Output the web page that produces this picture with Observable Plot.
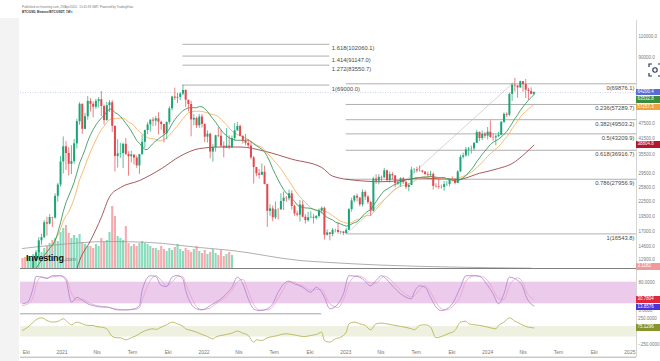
<!DOCTYPE html>
<html><head><meta charset="utf-8">
<script src="https://cdn.jsdelivr.net/npm/d3@7"></script>
<script src="https://cdn.jsdelivr.net/npm/@observablehq/plot@0.6"></script>
<style>
html,body{margin:0;padding:0;background:#fff;}
#wrap{position:relative;width:660px;height:361px;overflow:hidden;background:#fff;font-family:"Liberation Sans",Arial,sans-serif;}
#wrap svg.plot-layer{position:absolute;left:0;top:0;max-width:none;}
.box{position:absolute;left:636px;width:26px;height:6.4px;font-size:4.5px;line-height:6.4px;color:#fff;padding-left:1.6px;box-sizing:border-box;white-space:nowrap;}
</style></head><body><div id="wrap"></div>
<script>
// ---------------- DATA (weekly candles, thousands of USD) ----------------
const firstWeek = "2020-09-21";
const firstOpen = 10.92;
const high = [10.99,10.93,11.49,11.72,13.35,14.10,15.97,16.49,18.78,19.42,19.92,19.41,24.28,26.87,34.80,
41.95,40.11,37.85,38.53,40.95,49.71,58.30,57.53,52.60,61.78,60.60,58.60,60.20,61.28,64.85,57.00,58.46,59.50,59.47,46.67,40.85,39.50,39.50,41.33,36.40,36.60,35.10,34.90,35.50,42.60,44.80,48.14,49.38,50.50,51.03,52.92,48.85,47.36,48.50,56.08,62.00,67.00,63.70,64.25,69.00,66.00,59.27,59.10,51.95,50.75,52.10,52.05,
47.57,44.46,43.50,38.92,42.66,45.85,44.75,40.00,45.40,42.40,42.33,47.70,48.20,47.00,42.40,43.00,40.80,40.00,34.80,31.00,30.70,32.40,31.70,26.70,21.90,21.60,22.50,21.10,24.30,24.70,23.70,25.20,25.00,21.80,20.55,22.80,22.70,19.90,20.35,20.45,19.95,19.70,21.00,21.45,21.40,17.20,16.75,17.40,17.30,18.40,16.95,16.95,
17.40,21.10,23.30,23.90,24.25,23.45,25.25,25.05,23.90,22.60,28.50,29.20,29.20,28.80,31.00,30.50,30.00,29.80,29.00,27.60,28.40,28.45,27.40,26.80,31.40,31.00,31.40,31.80,30.45,30.10,29.95,30.20,29.70,26.80,28.15,26.40,27.40,27.40,28.05,28.60,27.95,30.35,35.20,35.95,37.98,37.95,38.40,39.70,44.70,44.05,44.40,43.80,
45.90,48.95,43.20,42.80,43.85,48.60,52.80,52.95,63.95,70.15,73.75,68.95,71.70,71.30,72.80,66.90,67.20,64.70];
const low = [10.14,10.37,10.53,11.22,11.42,12.95,13.20,14.83,15.79,16.19,18.04,17.60,19.05,22.42,25.94,
29.45,30.42,28.85,29.24,32.30,37.35,46.90,43.00,44.95,49.30,53.27,50.40,54.60,55.46,51.00,47.00,48.80,53.05,43.82,30.00,31.12,34.15,31.00,35.10,28.80,32.70,32.07,31.02,29.28,35.21,37.50,42.85,43.93,46.31,46.50,42.80,44.74,39.60,40.83,47.12,53.88,59.53,57.80,59.40,62.30,55.60,53.25,42.00,46.80,45.50,45.55,45.70,
39.65,39.55,34.00,32.92,36.25,41.65,37.80,34.32,37.50,37.15,37.58,40.47,44.20,42.00,39.20,38.60,37.60,33.70,26.70,28.60,28.00,29.30,26.50,17.60,19.60,18.60,19.00,18.90,20.80,20.70,22.40,22.70,20.80,19.60,19.50,18.55,19.30,18.20,18.50,19.20,18.20,18.90,19.25,20.05,15.60,16.20,15.48,16.10,16.70,16.50,16.40,16.30,
16.50,17.10,20.40,22.30,22.50,21.45,21.40,22.80,21.95,19.57,20.40,26.60,26.50,27.20,28.20,27.10,26.95,27.70,25.80,26.40,25.90,26.60,25.35,24.80,26.30,29.50,29.70,29.95,29.60,28.90,28.60,28.70,25.20,25.70,25.40,25.40,24.90,26.10,26.00,27.25,26.55,26.80,29.80,33.95,34.50,34.80,35.60,36.70,39.40,40.20,40.50,41.30,
40.75,41.50,40.30,38.55,41.80,42.50,47.70,50.55,50.90,59.00,64.55,60.75,66.90,64.50,60.70,59.60,62.80,62.30];
const close = [10.77,10.67,11.38,11.50,13.03,13.80,15.48,15.96,18.41,18.18,19.36,19.27,23.73,26.44,33.00,
38.18,35.79,32.26,33.11,39.27,48.56,57.40,45.14,50.97,59.02,57.35,55.81,59.00,59.97,56.17,49.07,56.62,58.24,46.43,34.76,35.68,35.80,39.10,35.49,34.70,35.29,34.25,31.78,35.40,39.85,44.61,47.08,49.32,48.83,49.94,48.31,47.26,43.20,48.20,54.97,61.53,60.85,61.30,63.27,65.50,59.70,57.27,49.40,50.10,46.70,50.80,47.30,
41.86,43.08,36.28,37.92,42.41,42.20,38.38,37.70,38.42,37.80,41.26,44.50,46.40,42.20,40.40,39.45,38.47,34.30,31.30,29.43,29.02,29.90,26.57,20.55,21.03,19.30,20.85,20.83,22.58,23.30,23.18,24.31,21.53,20.05,19.81,21.83,19.42,18.80,19.31,19.40,19.20,19.57,20.63,21.15,16.33,16.70,16.45,17.12,17.10,16.78,16.84,16.61,
17.13,20.88,22.70,23.74,23.33,21.86,24.63,23.55,22.35,20.60,27.99,27.45,28.45,28.33,30.30,27.59,29.23,28.86,26.80,27.10,28.08,27.12,25.85,26.33,30.54,30.59,30.29,30.23,29.92,29.26,29.05,29.30,26.10,26.00,25.84,25.83,26.53,26.57,27.97,27.94,26.86,29.98,34.50,35.00,37.06,37.38,37.45,39.46,43.75,41.35,43.00,42.28,
43.90,41.70,41.58,42.05,42.60,48.30,52.10,51.70,63.10,68.90,68.40,67.20,71.30,69.40,65.70,64.90,63.10,64.20];

// weekly volume (relative units), first 78 weeks only
const volume = [10,11,12,10,14,15,18,16,20,22, 25,28,30,27,36,40,43,35,30,33, 30,34,26,24,22,22,20,24,22,30,
26,28,36,62,52,32,30,28,42,25, 22,24,22,25,27,25,24,22,20,20, 18,22,19,17,20,18,21,24,19,17,
20,18,16,19,22,17,15,18,14,16, 19,15,13,18,12,14,16,13];
const volMaWeek = [0,10,32,47,65,77,102,113,131,157,187];
const volMa     = [20,23,27,26,21,18,8,6,3.5,1.5,0.3];

// 50-week moving average (thousands)
const ma50Week = [19,20,21,25,29,32,36,43,51,58,65,73,80,89,99,110,114,122,132,139,146,160,168,175,180,185,188];
const ma50     = [11.2,11.85,12.8,15.5,19.4,23.6,25.8,27.6,30.9,34.9,37.5,38.1,38.1,36.6,33.9,31.3,28.8,27.7,27.3,27.6,28.3,27.9,29.6,31.0,32.5,36.0,38.8];

// Stochastic RSI
const stochWeek = [0,2,4,5,7,9,11,14,16,18,20,22,24,26,29,31,35,38,41,43,44,47,49,51,53,55,57,59,60,62,64,66,69,71,73,75,77,79,81,83,85,87,90,92,94,96,98,100,101,103,106,108,110,111,113,116,118,120,123,125,128,130,132,133,136,139,143,144,146,148,150,152,154,156,158,161,163,166,168,171,173,175,177,179,182,184,185,188];
const stochK = [20,25,66,96,94,90,98,98,85,24,38,30,20,15,11,11,3,3,6,15,57,98,96,71,68,94,99,88,57,20,6,3,15,24,34,48,66,94,76,34,6,1,6,20,52,75,83,75,73,66,52,66,52,38,6,20,48,98,96,89,70,85,98,94,70,48,34,52,70,66,38,11,1,6,20,66,98,98,96,71,48,20,48,94,85,66,43,14];
const stochD = [15,20,40,70,95,92,95,98,92,50,30,33,25,18,13,11,5,3,4,9,30,85,98,85,70,80,96,95,75,40,12,4,8,20,29,41,57,80,88,55,18,3,3,12,35,62,80,80,75,70,58,60,60,48,20,10,32,75,98,94,78,78,92,97,82,58,40,42,60,70,52,25,6,3,12,42,82,98,97,85,60,35,32,70,92,78,58,31];

// CCI
const cciWeek = [0,2,4,5,7,9,11,13,15,17,18,20,22,24,26,27,29,31,33,35,36,38,40,42,44,46,48,49,51,53,55,57,59,60,62,64,66,68,70,71,73,75,77,79,81,83,85,86,88,90,92,94,95,97,99,101,103,104,106,108,110,111,113,115,117,119,120,122,124,126,128,130,132,135,139,143,144,146,148,150,152,154,155,157,159,161,163,164,166,168,170,172,174,175,177,179,181,183,185,187,188];
const cci = [26,90,186,231,269,218,186,199,250,167,135,186,154,122,122,103,90,58,-90,-115,-115,-154,-115,-70,-6,38,58,45,90,135,186,154,103,58,26,-6,-51,-90,-135,-103,-70,-51,-26,13,-26,-70,-199,-154,-167,-115,-90,-70,-51,-38,-51,-70,-90,-90,-70,-51,-6,-167,-199,-135,-103,-6,154,186,154,122,38,154,167,141,103,58,38,122,135,90,-115,-90,-70,-26,26,186,205,154,135,122,103,77,58,122,186,269,205,154,103,80,75];

// Fibonacci tools
const fibExtLevels = ["1.618","1.414","1.272","1"];
const fibExtValues = [102060.1, 91147.0, 83550.7, 69000.0];
const fibExtWeeks  = [59, 113];
const fibRetLevels = ["0","0.236","0.382","0.5","0.618","0.786","1"];
const fibRetValues = [69876.1, 57289.7, 49503.2, 43209.9, 36916.7, 27956.9, 16543.8];
const fibRetWeeks  = [119, 180];
const lastPrice = 64200.4;

// axis ticks / labels
const priceTicks = [110000, 90000, 47500, 41500, 35500, 29500, 25800, 22500, 19500, 17000, 14600, 12900];
const stochTicks = [80, 0];
const cciTicks = [250, -250];
const timeTickDates = ["2020-10-01","2021-01-01","2021-04-01","2021-07-01","2021-10-01","2022-01-01","2022-04-01","2022-07-01","2022-10-01","2023-01-01","2023-04-01","2023-07-01","2023-10-01","2024-01-01","2024-04-01","2024-07-01","2024-10-01","2025-01-01"];
const timeTickLabels = ["Eki","2021","Nis","Tem","Eki","2022","Nis","Tem","Eki","2023","Nis","Tem","Eki","2024","Nis","Tem","Eki","2025"];

const priceBoxTexts = ["64200.4","63532.8","57257.3","38804.8"];
const priceBoxValues = [64200.4, 63532.8, 57257.3, 38804.8];
const priceBoxColors = ["#5a6bd6","#3b8c3f","#f2a43c","#b3162e"];
const stochBoxTexts = ["30.7804","13.8576"];
const stochBoxValues = [30.7804, 13.8576];
const stochBoxColors = ["#e2263c","#4b33da"];
const cciBoxText = "75.1296", cciBoxValue = 75.1296, cciBoxColor = "#8a942f";
const volBoxText = "3.1182", volBoxValue = 1.5, volBoxColor = "#f19a9c";

// ---------------- BUILD ----------------
const DAY = 864e5;
const w0 = new Date(firstWeek + "T00:00:00Z").getTime();
const weekDate = i => new Date(w0 + i * 7 * DAY);
const xStart = new Date("2020-09-16T00:00:00Z");
const xEnd = new Date("2025-01-18T00:00:00Z");
const UP = "#19a574", DOWN = "#e2494f";

const candles = close.map((c, i) => ({
  date: weekDate(i),
  open: (i ? close[i - 1] : firstOpen) * 1000,
  high: high[i] * 1000, low: low[i] * 1000, close: c * 1000
}));
const vols = volume.map((v, i) => ({date: weekDate(i), v, up: candles[i].close >= candles[i].open}));
const volMaData = volMaWeek.map((w, i) => ({date: weekDate(w), v: volMa[i]}));
const ma50Data = ma50Week.map((w, i) => ({date: weekDate(w), v: ma50[i] * 1000}));
const stochData = stochWeek.map((w, i) => ({date: weekDate(w), k: stochK[i], d: stochD[i]}));
const cciData = cciWeek.map((w, i) => ({date: weekDate(w), v: cci[i]}));
const fibExt = fibExtLevels.map((l, i) => ({level: l, v: fibExtValues[i]}));
const fibRet = fibRetLevels.map((l, i) => ({level: l, v: fibRetValues[i]}));
const diag = [{date: weekDate(fibRetWeeks[0]), v: fibRetValues[6]}, {date: weekDate(fibRetWeeks[1]), v: fibRetValues[0]}];
const tickDates = timeTickDates.map(s => new Date(s + "T00:00:00Z"));
const tickLabelMap = new Map(tickDates.map((d, i) => [d.getTime(), timeTickLabels[i]]));

const W = 660, H = 361, ML = 20, MR = 24;
const xOpt = {type: "utc", domain: [xStart, xEnd], axis: null};
const baseStyle = {background: "transparent", fontFamily: "Liberation Sans, Arial, sans-serif", fontSize: "4.5px", color: "#7a7a7a", overflow: "visible", maxWidth: "none"};
const wrap = document.getElementById("wrap");
function add(svg, container = wrap) { svg.classList.add("plot-layer"); container.appendChild(svg); return svg; }

// left grey strip, right axis separator
const strip = document.createElement("div");
strip.style.cssText = "position:absolute;left:0;top:18px;width:19px;height:343px;background:#f3f3f3;";
wrap.appendChild(strip);
const vsep = document.createElement("div");
vsep.style.cssText = "position:absolute;left:636px;top:20px;width:0;height:337px;border-left:0.8px solid #d4d4d4;";
wrap.appendChild(vsep);

// header
const hdr = document.createElement("div");
hdr.style.cssText = "position:absolute;left:22px;top:5px;font-size:3px;line-height:4.6px;color:#777;white-space:nowrap;";
hdr.innerHTML = "Published on Investing.com, 29/Apr/2024 - 15:45:39 GMT, Powered by TradingView.<br><span style='color:#333;font-weight:bold'>BTC/USD, Binance/BTC/USDT, 1W \u25BE</span>";
wrap.appendChild(hdr);

// Volume layer
const volPlot = add(Plot.plot({
  width: W, height: H, marginLeft: ML, marginRight: MR, marginTop: 30, marginBottom: 93,
  style: baseStyle, x: xOpt, y: {domain: [0, 238], axis: null}, color: {type: "identity"},
  marks: [
    Plot.ruleX(vols, {x: "date", y1: 0, y2: "v", stroke: d => d.up ? "#86dcbd" : "#f5aaae", strokeWidth: 2.1}),
    Plot.line(volMaData, {x: "date", y: "v", stroke: "#9b9b9b", strokeWidth: 0.8, curve: "monotone-x"}),
    Plot.ruleY([0], {stroke: "#727272", strokeWidth: 0.9})
  ]
}));

// Price layer
const pricePlot = add(Plot.plot({
  width: W, height: H, marginLeft: ML, marginRight: MR, marginTop: 30, marginBottom: 93,
  style: baseStyle, x: xOpt, color: {type: "identity"},
  y: {type: "log", domain: [11871, 116520], axis: "right", ticks: priceTicks, tickFormat: d3.format(".1f"), tickSize: 0, tickPadding: 2, label: null},
  marks: [
    Plot.ruleY(fibExt, {y: "v", x1: () => weekDate(fibExtWeeks[0]), x2: () => weekDate(fibExtWeeks[1]), stroke: "#a6a6a6", strokeWidth: 0.9}),
    Plot.text(fibExt, {y: "v", x: () => weekDate(fibExtWeeks[1]), text: d => `${d.level}(${d.v.toFixed(1)})`, textAnchor: "start", dx: 2, dy: 3.6, fontSize: 5.8, fill: "#4a4a4a"}),
    Plot.ruleY(fibRet, {y: "v", x1: () => weekDate(fibRetWeeks[0]), x2: () => xEnd, stroke: "#a6a6a6", strokeWidth: 0.9}),
    Plot.text(fibRet, {y: "v", frameAnchor: "right", text: d => `${d.level}(${d.v.toFixed(1)})`, textAnchor: "end", dx: -2, dy: 4, fontSize: 5.8, fill: "#4a4a4a"}),
    Plot.line(diag, {x: "date", y: "v", stroke: "#b9b9b9", strokeWidth: 0.6}),
    Plot.ruleY([lastPrice], {stroke: "#b3bbe6", strokeWidth: 0.7, strokeDasharray: "1,1.5"}),
    Plot.line(ma50Data, {x: "date", y: "v", stroke: "#9a3b3f", strokeWidth: 0.85, curve: "monotone-x", clip: true}),
    Plot.lineY(candles, Plot.windowY({k: 18, anchor: "end"}, {x: "date", y: "close", stroke: "#f2b25e", strokeWidth: 0.85, clip: true})),
    Plot.lineY(candles, Plot.windowY({k: 13, anchor: "end"}, {x: "date", y: "close", stroke: "#2f9656", strokeWidth: 0.85, clip: true})),
    Plot.ruleX(candles, {x: "date", y1: "low", y2: "high", stroke: d => d.close >= d.open ? UP : DOWN, strokeWidth: 0.7, clip: true}),
    Plot.ruleX(candles, {x: "date", y1: "open", y2: "close", stroke: d => d.close >= d.open ? UP : DOWN, strokeWidth: 2.0, clip: true})
  ]
}));

// Stochastic RSI layer
const stochPlot = add(Plot.plot({
  width: W, height: H, marginLeft: ML, marginRight: MR, marginTop: 274.5, marginBottom: 50.5,
  style: baseStyle, x: xOpt,
  y: {domain: [0, 100], axis: "right", ticks: stochTicks, tickFormat: d3.format(".4f"), tickSize: 0, tickPadding: 2, label: null},
  marks: [
    Plot.rect([0], {x1: () => xStart, x2: () => xEnd, y1: () => 20, y2: () => 80, fill: "#eccaeb"}),
    Plot.line(stochData, {x: "date", y: "d", stroke: "#eba2c8", strokeWidth: 0.8, curve: "monotone-x"}),
    Plot.line(stochData, {x: "date", y: "k", stroke: "#a784cc", strokeWidth: 0.8, curve: "monotone-x"})
  ]
}));

// CCI layer
const cciPlot = add(Plot.plot({
  width: W, height: H, marginLeft: ML, marginRight: MR, marginTop: 313.3, marginBottom: 11.7,
  style: baseStyle, x: xOpt,
  y: {domain: [-346, 346], axis: "right", ticks: cciTicks, tickFormat: d3.format(".4f"), tickSize: 0, tickPadding: 1.5, label: null},
  marks: [
    Plot.rect([0], {x1: () => xStart, x2: () => xEnd, y1: () => -100, y2: () => 100, fill: "#eef1df"}),
    Plot.ruleY([346], {x1: () => xStart, x2: () => weekDate(110), stroke: "#8d8d8d", strokeWidth: 0.8}),
    Plot.line(cciData, {x: "date", y: "v", stroke: "#b5b150", strokeWidth: 0.85, curve: "monotone-x"})
  ]
}));

// time axis layer (clipped at price-axis boundary)
const axDiv = document.createElement("div");
axDiv.style.cssText = "position:absolute;left:0;top:0;width:636px;height:361px;overflow:hidden;";
wrap.appendChild(axDiv);
add(Plot.plot({
  width: W, height: H, marginLeft: ML, marginRight: MR, marginTop: 356.7, marginBottom: 3.3,
  style: {...baseStyle, fontSize: "5px", color: "#777"},
  x: {type: "utc", domain: [xStart, xEnd], axis: "top", ticks: tickDates, tickFormat: d => tickLabelMap.get(d.getTime()) ?? "", tickSize: 0, tickPadding: 3.2, label: null},
  y: {domain: [0, 1], axis: null},
  marks: [Plot.ruleY([1], {stroke: "#9c9c9c", strokeWidth: 0.8})]
}), axDiv);

// colored value boxes positioned with the plots' own scales
function boxes(plot, values, texts, colors) {
  const ys = plot.scale("y");
  const items = values.map((v, i) => ({y: ys.apply(v), t: texts[i], c: colors[i]})).sort((a, b) => a.y - b.y);
  let prev = -1e9;
  for (const it of items) {
    const y = Math.max(it.y, prev + 7.4); prev = y;
    const b = document.createElement("div");
    b.className = "box"; b.style.top = (y - 3.2) + "px"; b.style.background = it.c; b.textContent = it.t;
    wrap.appendChild(b);
  }
}
boxes(pricePlot, priceBoxValues, priceBoxTexts, priceBoxColors);
boxes(volPlot, [volBoxValue], [volBoxText], [volBoxColor]);
boxes(stochPlot, stochBoxValues, stochBoxTexts, stochBoxColors);
boxes(cciPlot, [cciBoxValue], [cciBoxText], [cciBoxColor]);

// Investing.com watermark
const logo = document.createElement("div");
logo.style.cssText = "position:absolute;left:26px;top:253.5px;font-size:9px;line-height:9px;font-weight:bold;color:#111;letter-spacing:-0.2px;white-space:nowrap;";
logo.innerHTML = "Investing<span style='font-size:6px;font-weight:normal;color:#777'>.com</span>";
wrap.appendChild(logo);

// screenshot icon
const icon = document.createElement("div");
icon.style.cssText = "position:absolute;left:648px;top:63px;width:14px;height:14px;";
icon.innerHTML = "<svg width='14' height='14' viewBox='0 0 14 14'><path d='M1 4V1h3M10 1h3v3M13 10v3h-3M4 13H1v-3' fill='none' stroke='#27345f' stroke-width='1.2'/><circle cx='7' cy='7' r='2.2' fill='none' stroke='#27345f' stroke-width='1.1'/></svg>";
wrap.appendChild(icon);
</script></body></html>
